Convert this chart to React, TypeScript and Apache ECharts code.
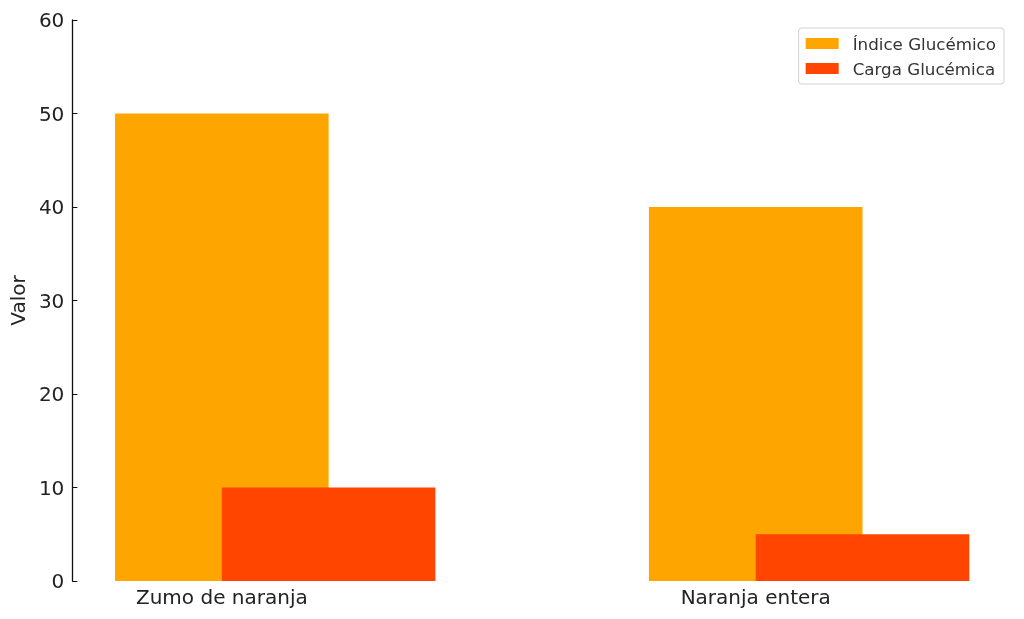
import { useEffect, useRef } from 'react';
import * as echarts from 'echarts';

// Datos
const categories = ['Zumo de naranja', 'Naranja entera'];
const indiceGlucemico = [50, 40];
const cargaGlucemica = [10, 5];
const seriesNames = ['Índice Glucémico', 'Carga Glucémica'];
const yTicks = [0, 10, 20, 30, 40, 50, 60];

const BAR_W = 0.4;
const FONT = 'DejaVu Sans, sans-serif';

// barra de ancho fijo en unidades de datos, desplazada respecto a la categoría
function barRenderer(offset: number) {
  return (params: any, api: any) => {
    const x = (api.value(0) as number) + offset;
    const top = api.coord([x - BAR_W / 2, api.value(1)]);
    const bottom = api.coord([x + BAR_W / 2, 0]);
    return {
      type: 'rect',
      shape: { x: top[0], y: top[1], width: bottom[0] - top[0], height: bottom[1] - top[1] },
      style: { fill: api.visual('color') },
    };
  };
}

export default function App() {
  const ref = useRef<HTMLDivElement>(null);

  useEffect(() => {
    if (!ref.current) return;
    const chart = echarts.init(ref.current, null, { renderer: 'svg' });
    chart.setOption({
      animation: false,
      textStyle: { fontFamily: FONT },
      grid: { left: 72, right: 12, top: 20, bottom: 38 },
      legend: {
        orient: 'vertical',
        right: 20,
        top: 28,
        icon: 'rect',
        itemWidth: 33,
        itemHeight: 11,
        itemGap: 8,
        padding: [7, 8, 7, 7],
        borderColor: '#d0d0d0',
        borderWidth: 1,
        borderRadius: 3,
        textStyle: { fontSize: 16.7, color: '#333', fontFamily: FONT, padding: [0, 0, 0, 9] },
        data: seriesNames,
      },
      xAxis: {
        type: 'value',
        min: -0.28,
        max: 1.48,
        axisLine: { show: false },
        splitLine: { show: false },
        axisTick: { show: true, inside: true, length: 4, customValues: [0, 1], lineStyle: { color: '#222' } },
        axisLabel: {
          customValues: [0, 1],
          formatter: (v: number) => categories[Math.round(v)] ?? '',
          fontSize: 20,
          color: '#222',
          margin: 6,
          fontFamily: FONT,
        },
      },
      yAxis: {
        type: 'value',
        min: yTicks[0],
        max: yTicks[yTicks.length - 1],
        interval: 10,
        name: 'Valor',
        nameLocation: 'middle',
        nameRotate: 90,
        nameGap: 44,
        nameTextStyle: { fontSize: 20, color: '#222', fontFamily: FONT },
        axisLine: { show: true, onZero: false, lineStyle: { color: '#111', width: 1.3 } },
        axisTick: { show: true, inside: true, length: 5, lineStyle: { color: '#111' } },
        splitLine: { show: false },
        axisLabel: { fontSize: 20, color: '#222', margin: 8, fontFamily: FONT },
      },
      series: [
        {
          name: seriesNames[0],
          type: 'custom',
          itemStyle: { color: '#FFA500' },
          renderItem: barRenderer(0),
          encode: { x: 0, y: 1 },
          data: indiceGlucemico.map((v, i) => [i, v]),
          z: 2,
        },
        {
          name: seriesNames[1],
          type: 'custom',
          itemStyle: { color: '#FF4500' },
          renderItem: barRenderer(BAR_W / 2),
          encode: { x: 0, y: 1 },
          data: cargaGlucemica.map((v, i) => [i, v]),
          z: 3,
        },
      ],
    });
    return () => chart.dispose();
  }, []);

  return <div ref={ref} style={{ position: 'fixed', left: 0, top: 0, width: 1024, height: 619 }} />;
}
